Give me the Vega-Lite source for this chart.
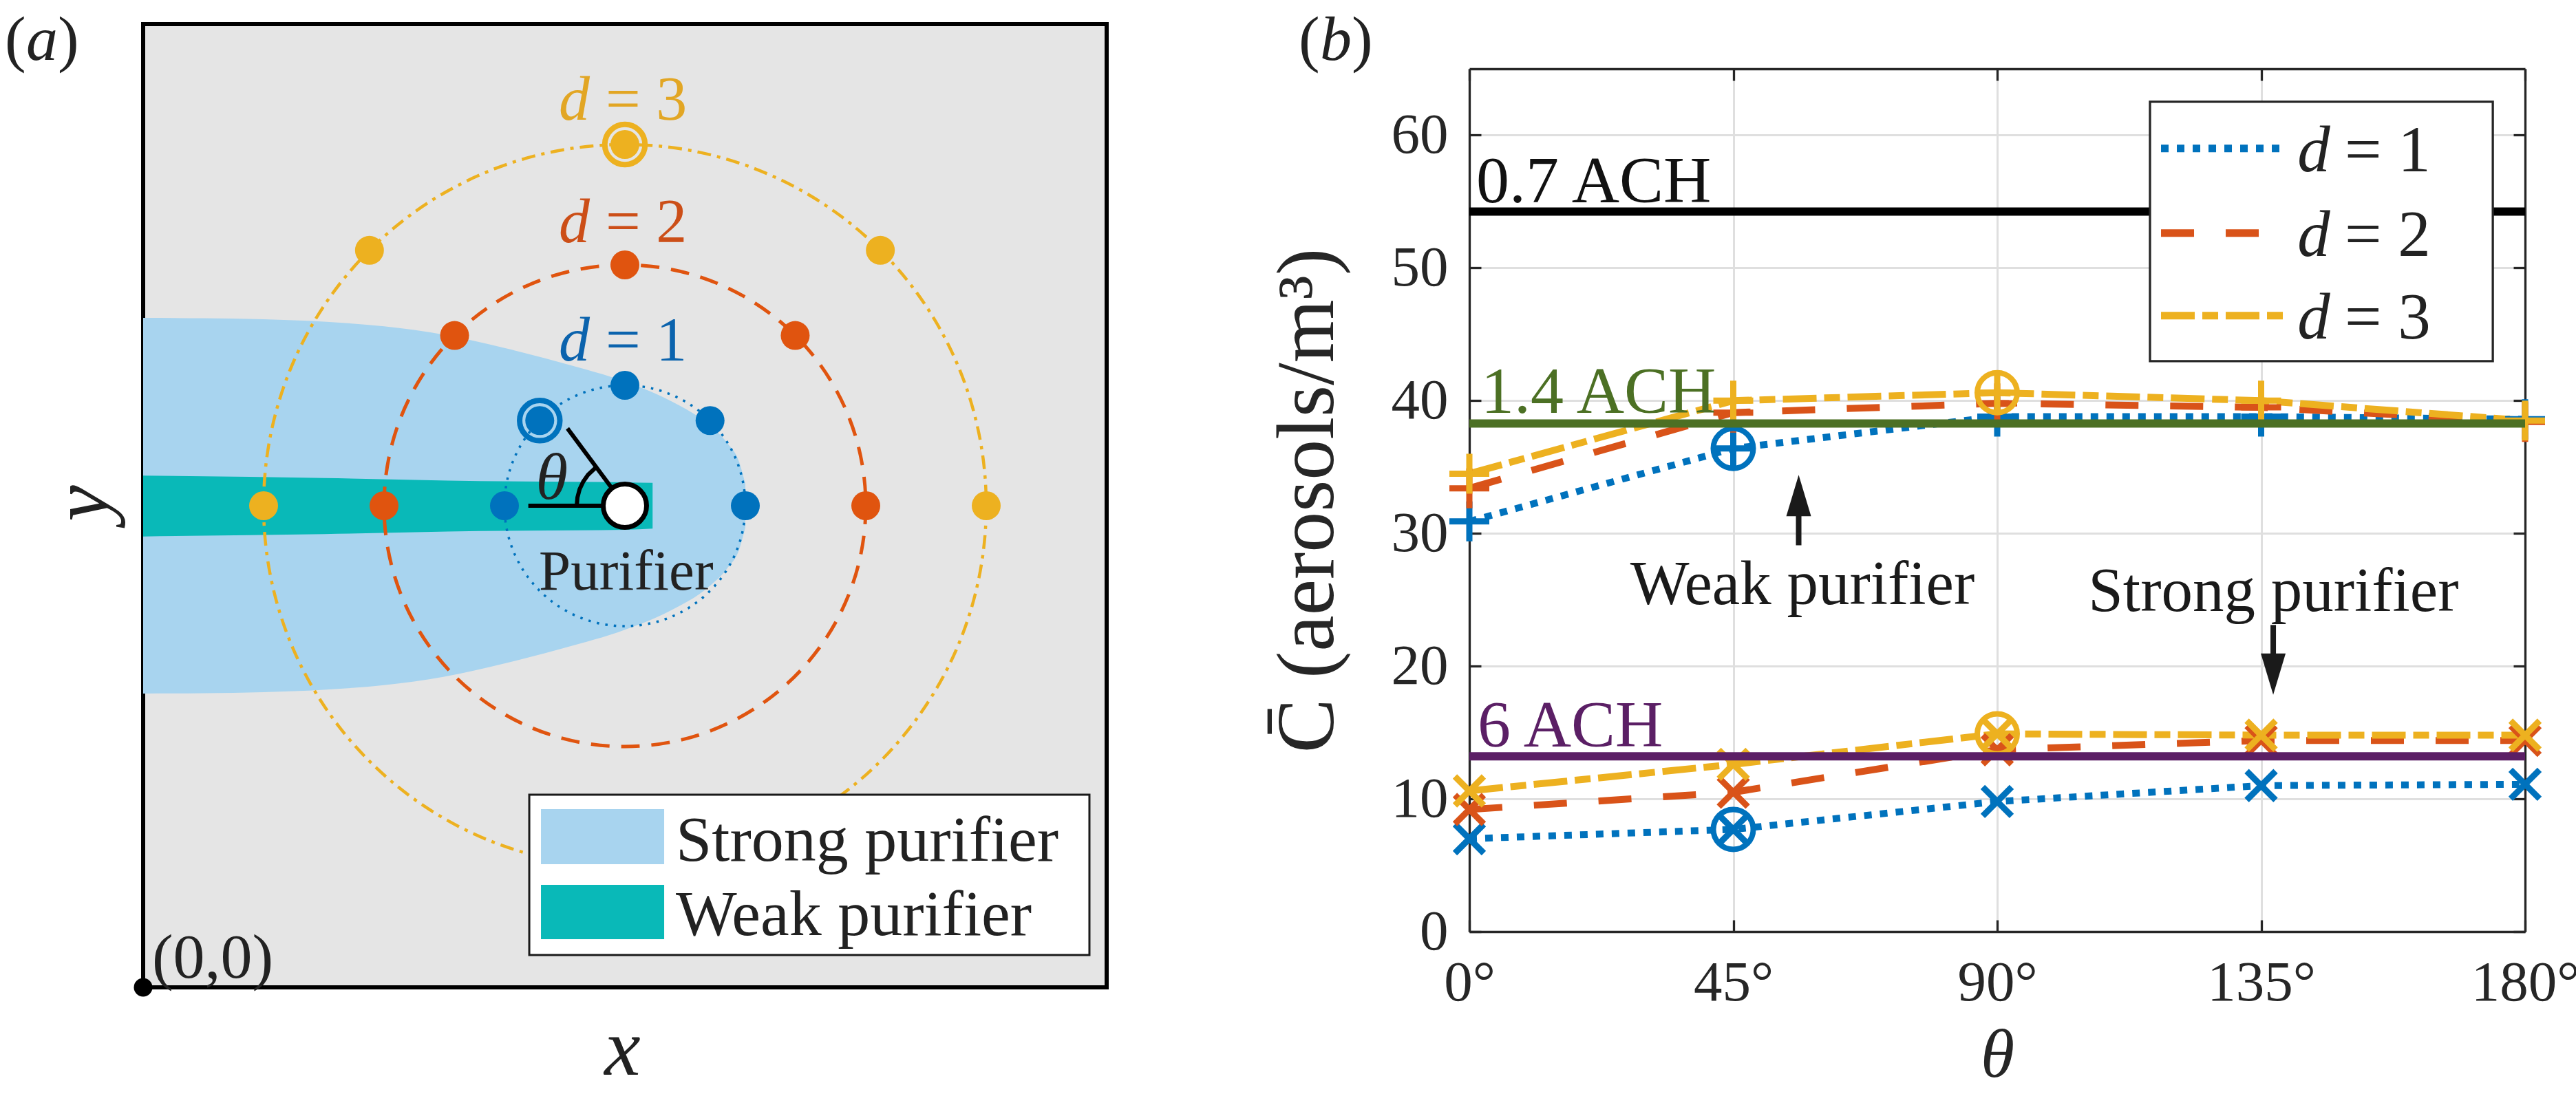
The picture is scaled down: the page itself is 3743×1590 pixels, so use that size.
{
"$schema": "https://vega.github.io/schema/vega-lite/v6.json",
"padding": {"left": 6, "top": 12, "right": 0, "bottom": 0},
"background": "white",
"bounds": "flush",
"spacing": 527,
"resolve": {"scale": {"x": "independent", "y": "independent", "color": "independent", "fill": "independent", "stroke": "independent", "size": "independent", "shape": "independent", "strokeDash": "independent", "strokeWidth": "independent"}},
"config": {
  "view": {"stroke": null},
  "font": "Liberation Serif",
  "text": {"font": "Liberation Serif", "color": "#222222", "baseline": "alphabetic"},
  "point": {"opacity": 1},
  "axis": {
    "labelFont": "Liberation Serif", "labelFontSize": 83, "labelColor": "#262626",
    "titleFont": "Liberation Serif", "titleFontSize": 118, "titleFontWeight": "normal", "titleColor": "#262626",
    "domainColor": "#262626", "domainWidth": 3.3, "tickColor": "#262626", "tickWidth": 3.3, "tickSize": -17,
    "gridColor": "#DFDFDF", "gridWidth": 3, "labelFlush": false, "labelOverlap": false
  }
},
"datasets": {
  "aBox": [{"x": 0, "x2": 8, "y": 0, "y2": 8}],
  "aStrong": [
    {"x": 0, "y": 2.44, "y2": 5.56},
    {"x": 0.5, "y": 2.443, "y2": 5.557},
    {"x": 1.0, "y": 2.452, "y2": 5.548},
    {"x": 1.5, "y": 2.472, "y2": 5.528},
    {"x": 2.0, "y": 2.51, "y2": 5.49},
    {"x": 2.5, "y": 2.58, "y2": 5.42},
    {"x": 3.0, "y": 2.69, "y2": 5.31},
    {"x": 3.5, "y": 2.82, "y2": 5.18},
    {"x": 4.0, "y": 2.97, "y2": 5.03},
    {"x": 4.4, "y": 3.14, "y2": 4.86},
    {"x": 4.7, "y": 3.33, "y2": 4.67},
    {"x": 4.85, "y": 3.48, "y2": 4.52},
    {"x": 4.95, "y": 3.64, "y2": 4.36},
    {"x": 5.0, "y": 3.82, "y2": 4.18}
  ],
  "aWeak": [
    {"x": 0, "y": 3.745, "y2": 4.25},
    {"x": 1.5, "y": 3.765, "y2": 4.23},
    {"x": 2.8, "y": 3.79, "y2": 4.205},
    {"x": 4.0, "y": 3.8, "y2": 4.195},
    {"x": 4.23, "y": 3.81, "y2": 4.19}
  ],
  "aCircles": [{"d": 1, "x": 4, "y": 4}, {"d": 2, "x": 4, "y": 4}, {"d": 3, "x": 4, "y": 4}],
  "aDots": [
    {"d": 1, "th": 0, "x": 3, "y": 4, "ring": false},
    {"d": 1, "th": 45, "x": 3.293, "y": 4.707, "ring": true},
    {"d": 1, "th": 90, "x": 4, "y": 5, "ring": false},
    {"d": 1, "th": 135, "x": 4.707, "y": 4.707, "ring": false},
    {"d": 1, "th": 180, "x": 5, "y": 4, "ring": false},
    {"d": 2, "th": 0, "x": 2, "y": 4, "ring": false},
    {"d": 2, "th": 45, "x": 2.586, "y": 5.414, "ring": false},
    {"d": 2, "th": 90, "x": 4, "y": 6, "ring": false},
    {"d": 2, "th": 135, "x": 5.414, "y": 5.414, "ring": false},
    {"d": 2, "th": 180, "x": 6, "y": 4, "ring": false},
    {"d": 3, "th": 0, "x": 1, "y": 4, "ring": false},
    {"d": 3, "th": 45, "x": 1.879, "y": 6.121, "ring": false},
    {"d": 3, "th": 90, "x": 4, "y": 7, "ring": true},
    {"d": 3, "th": 135, "x": 6.121, "y": 6.121, "ring": false},
    {"d": 3, "th": 180, "x": 7, "y": 4, "ring": false}
  ],
  "aAngle": [
    {"seg": "h", "o": 0, "x": 3.198, "y": 4}, {"seg": "h", "o": 1, "x": 4, "y": 4},
    {"seg": "g", "o": 0, "x": 3.523, "y": 4.642}, {"seg": "g", "o": 1, "x": 4, "y": 4},
    {"seg": "arc", "o": 0, "x": 3.6, "y": 4}, {"seg": "arc", "o": 1, "x": 3.606, "y": 4.069},
    {"seg": "arc", "o": 2, "x": 3.624, "y": 4.137}, {"seg": "arc", "o": 3, "x": 3.654, "y": 4.2},
    {"seg": "arc", "o": 4, "x": 3.694, "y": 4.257}, {"seg": "arc", "o": 5, "x": 3.762, "y": 4.321}
  ],
  "aPurifier": [{"x": 4, "y": 4}],
  "aOrigin": [{"x": 0, "y": 0}],
  "aDSym": [{"d": 1, "x": 3.451, "y": 5.206}, {"d": 2, "x": 3.451, "y": 6.189}, {"d": 3, "x": 3.451, "y": 7.205}],
  "aDEq": [{"d": 1, "x": 3.84, "y": 5.206, "text": "= 1"}, {"d": 2, "x": 3.84, "y": 6.189, "text": "= 2"}, {"d": 3, "x": 3.84, "y": 7.205, "text": "= 3"}],
  "aPurLabel": [{"x": 4.01, "y": 3.303, "text": "Purifier"}],
  "aTheta": [{"x": 3.394, "y": 4.057}],
  "aOrigLabel": [{"x": 0.074, "y": 0.08, "text": "(0,0)"}],
  "aLegBox": [{"x": 3.206, "x2": 7.857, "y": 0.269, "y2": 1.6}],
  "aSwatch": [
    {"kind": "strong", "x": 3.303, "x2": 4.326, "y": 1.023, "y2": 1.48},
    {"kind": "weak", "x": 3.303, "x2": 4.326, "y": 0.4, "y2": 0.851}
  ],
  "aLegText": [{"x": 4.423, "y": 1.051, "text": "Strong purifier"}, {"x": 4.423, "y": 0.434, "text": "Weak purifier"}],
  "aXLabel": [{"x": 3.98, "y": -0.726}],
  "aYLabel": [{"x": -0.291, "y": 4.02}],
  "aPanelParen": [{"x": -1.1486, "y": 7.7029, "text": "("}, {"x": -0.7086, "y": 7.7029, "text": ")"}],
  "aPanelLetter": [{"x": -0.9714, "y": 7.7029}],
  "bData": [
    {"p": "weak", "d": 1, "t": 0, "c": 30.9, "ring": false},
    {"p": "weak", "d": 1, "t": 45, "c": 36.4, "ring": true},
    {"p": "weak", "d": 1, "t": 90, "c": 38.8, "ring": false},
    {"p": "weak", "d": 1, "t": 135, "c": 38.8, "ring": false},
    {"p": "weak", "d": 1, "t": 180, "c": 38.6, "ring": false},
    {"p": "weak", "d": 2, "t": 0, "c": 33.4, "ring": false},
    {"p": "weak", "d": 2, "t": 45, "c": 39.1, "ring": false},
    {"p": "weak", "d": 2, "t": 90, "c": 39.8, "ring": false},
    {"p": "weak", "d": 2, "t": 135, "c": 39.5, "ring": false},
    {"p": "weak", "d": 2, "t": 180, "c": 38.4, "ring": false},
    {"p": "weak", "d": 3, "t": 0, "c": 34.5, "ring": false},
    {"p": "weak", "d": 3, "t": 45, "c": 40.0, "ring": false},
    {"p": "weak", "d": 3, "t": 90, "c": 40.6, "ring": true},
    {"p": "weak", "d": 3, "t": 135, "c": 40.0, "ring": false},
    {"p": "weak", "d": 3, "t": 180, "c": 38.5, "ring": false},
    {"p": "strong", "d": 1, "t": 0, "c": 7.0, "ring": false},
    {"p": "strong", "d": 1, "t": 45, "c": 7.7, "ring": true},
    {"p": "strong", "d": 1, "t": 90, "c": 9.8, "ring": false},
    {"p": "strong", "d": 1, "t": 135, "c": 11.0, "ring": false},
    {"p": "strong", "d": 1, "t": 180, "c": 11.1, "ring": false},
    {"p": "strong", "d": 2, "t": 0, "c": 9.2, "ring": false},
    {"p": "strong", "d": 2, "t": 45, "c": 10.5, "ring": false},
    {"p": "strong", "d": 2, "t": 90, "c": 13.7, "ring": false},
    {"p": "strong", "d": 2, "t": 135, "c": 14.4, "ring": false},
    {"p": "strong", "d": 2, "t": 180, "c": 14.4, "ring": false},
    {"p": "strong", "d": 3, "t": 0, "c": 10.6, "ring": false},
    {"p": "strong", "d": 3, "t": 45, "c": 12.6, "ring": false},
    {"p": "strong", "d": 3, "t": 90, "c": 14.9, "ring": true},
    {"p": "strong", "d": 3, "t": 135, "c": 14.8, "ring": false},
    {"p": "strong", "d": 3, "t": 180, "c": 14.8, "ring": false}
  ],
  "bACH": [
    {"name": "0.7 ACH", "t": 0, "t2": 180, "c": 54.24},
    {"name": "1.4 ACH", "t": 0, "t2": 180, "c": 38.28},
    {"name": "6 ACH", "t": 0, "t2": 180, "c": 13.2}
  ],
  "bACHLabel": [
    {"name": "0.7 ACH", "t": 1.17, "c": 54.95},
    {"name": "1.4 ACH", "t": 2.0, "c": 39.08},
    {"name": "6 ACH", "t": 1.4, "c": 13.96}
  ],
  "bNote": [{"text": "Weak purifier", "t": 56.8, "c": 24.67}, {"text": "Strong purifier", "t": 137.1, "c": 24.15}],
  "bShaft": [{"t": 56.15, "c": 29.1, "c2": 33.5}, {"t": 137.06, "c": 23.1, "c2": 18.9}],
  "bHeadUp": [{"t": 56.15, "c": 32.85}],
  "bHeadDown": [{"t": 137.06, "c": 19.4}],
  "bPanelParen": [{"t": -29.1, "c": 65.674, "text": "("}, {"t": -20.07, "c": 65.674, "text": ")"}],
  "bPanelLetter": [{"t": -25.46, "c": 65.674}],
  "bLegBox": [{"t": 116.05, "t2": 174.5, "c": 42.98, "c2": 62.52}],
  "bLegLine": [
    {"d": 1, "t": 117.93, "c": 59.0}, {"d": 1, "t": 139.17, "c": 59.0},
    {"d": 2, "t": 117.93, "c": 52.62}, {"d": 2, "t": 139.17, "c": 52.62},
    {"d": 3, "t": 117.93, "c": 46.4}, {"d": 3, "t": 139.17, "c": 46.4}
  ],
  "bLegD": [{"d": 1, "t": 141.2, "c": 57.28}, {"d": 2, "t": 141.2, "c": 50.9}, {"d": 3, "t": 141.2, "c": 44.68}],
  "bLegEq": [{"text": "= 1", "t": 149.26, "c": 57.28}, {"text": "= 2", "t": 149.26, "c": 50.9}, {"text": "= 3", "t": 149.26, "c": 44.68}]
},
"hconcat": [
  {
    "width": 1400, "height": 1254,
    "view": {"stroke": null},
    "encoding": {
      "x": {"field": "x", "type": "quantitative", "scale": {"domain": [0, 8], "nice": false, "zero": false}, "axis": null},
      "y": {"field": "y", "type": "quantitative", "scale": {"domain": [0.46286, 7.62857], "nice": false, "zero": false}, "axis": null}
    },
    "layer": [
      {"data": {"name": "aBox"}, "mark": {"type": "rect", "fill": "#E5E5E5", "stroke": "#000000", "strokeWidth": 6},
       "encoding": {"x2": {"field": "x2"}, "y2": {"field": "y2"}}},
      {"data": {"name": "aStrong"}, "mark": {"type": "area", "orient": "vertical", "interpolate": "monotone", "color": "#A8D4EF", "opacity": 1},
       "encoding": {"y2": {"field": "y2"}}},
      {"data": {"name": "aWeak"}, "mark": {"type": "area", "orient": "vertical", "interpolate": "monotone", "color": "#09B9B8", "opacity": 1},
       "encoding": {"y2": {"field": "y2"}}},
      {"data": {"name": "aCircles"}, "mark": {"type": "point", "shape": "circle", "filled": false, "opacity": 1},
       "encoding": {
         "color": {"field": "d", "type": "ordinal", "scale": {"type": "ordinal", "domain": [1, 2, 3], "range": ["#0072BD", "#E0540F", "#EDB120"]}, "legend": null},
         "size": {"field": "d", "type": "ordinal", "scale": {"type": "ordinal", "domain": [1, 2, 3], "range": [122500, 490000, 1102500]}, "legend": null},
         "strokeWidth": {"field": "d", "type": "ordinal", "scale": {"type": "ordinal", "domain": [1, 2, 3], "range": [3.5, 5, 4.5]}, "legend": null},
         "strokeDash": {"field": "d", "type": "ordinal", "scale": {"type": "ordinal", "domain": [1, 2, 3], "range": [[3.5, 9], [27, 17], [20, 9, 5, 9]]}, "legend": null}
       }},
      {"data": {"name": "aDots"}, "mark": {"type": "point", "shape": "circle", "filled": true, "size": 1764, "opacity": 1},
       "encoding": {"color": {"field": "d", "type": "ordinal", "legend": null}}},
      {"data": {"name": "aDots"}, "transform": [{"filter": "datum.ring"}],
       "mark": {"type": "point", "shape": "circle", "filled": false, "size": 3422, "strokeWidth": 8, "opacity": 1},
       "encoding": {"color": {"field": "d", "type": "ordinal", "legend": null}}},
      {"data": {"name": "aAngle"}, "mark": {"type": "line", "color": "#000000", "strokeWidth": 6},
       "encoding": {"detail": {"field": "seg"}, "order": {"field": "o", "type": "quantitative"}}},
      {"data": {"name": "aPurifier"}, "mark": {"type": "point", "shape": "circle", "filled": true, "fill": "#FFFFFF", "stroke": "#000000", "strokeWidth": 7, "size": 3969, "opacity": 1}},
      {"data": {"name": "aOrigin"}, "mark": {"type": "point", "shape": "circle", "filled": true, "color": "#000000", "size": 729, "opacity": 1}},
      {"data": {"name": "aDSym"}, "mark": {"type": "text", "text": "d", "font": "Liberation Serif", "fontStyle": "italic", "fontSize": 90, "align": "left", "baseline": "alphabetic"},
       "encoding": {"fill": {"field": "d", "type": "ordinal", "scale": {"type": "ordinal", "domain": [1, 2, 3], "range": ["#0B63AD", "#CC4E17", "#E2A624"]}, "legend": null}}},
      {"data": {"name": "aDEq"}, "mark": {"type": "text", "font": "Liberation Serif", "fontSize": 90, "align": "left", "baseline": "alphabetic"},
       "encoding": {"text": {"field": "text"}, "fill": {"field": "d", "type": "ordinal", "legend": null}}},
      {"data": {"name": "aPurLabel"}, "mark": {"type": "text", "font": "Liberation Serif", "fontSize": 83, "align": "center", "baseline": "alphabetic", "color": "#222222"},
       "encoding": {"text": {"field": "text"}}},
      {"data": {"name": "aTheta"}, "mark": {"type": "text", "text": "θ", "font": "Liberation Serif", "fontStyle": "italic", "fontSize": 95, "align": "center", "baseline": "alphabetic", "color": "#222222"}},
      {"data": {"name": "aOrigLabel"}, "mark": {"type": "text", "font": "Liberation Serif", "fontSize": 92, "align": "left", "baseline": "alphabetic", "color": "#222222"},
       "encoding": {"text": {"field": "text"}}},
      {"data": {"name": "aLegBox"}, "mark": {"type": "rect", "fill": "#FFFFFF", "stroke": "#1A1A1A", "strokeWidth": 3},
       "encoding": {"x2": {"field": "x2"}, "y2": {"field": "y2"}}},
      {"data": {"name": "aSwatch"}, "transform": [{"filter": "datum.kind === 'strong'"}], "mark": {"type": "rect", "fill": "#A8D4EF"},
       "encoding": {"x2": {"field": "x2"}, "y2": {"field": "y2"}}},
      {"data": {"name": "aSwatch"}, "transform": [{"filter": "datum.kind === 'weak'"}], "mark": {"type": "rect", "fill": "#09B9B8"},
       "encoding": {"x2": {"field": "x2"}, "y2": {"field": "y2"}}},
      {"data": {"name": "aLegText"}, "mark": {"type": "text", "font": "Liberation Serif", "fontSize": 94, "align": "left", "baseline": "alphabetic", "color": "#222222"},
       "encoding": {"text": {"field": "text"}}},
      {"data": {"name": "aXLabel"}, "mark": {"type": "text", "text": "x", "font": "Liberation Serif", "fontStyle": "italic", "fontSize": 118, "align": "center", "baseline": "alphabetic", "color": "#222222"}},
      {"data": {"name": "aYLabel"}, "mark": {"type": "text", "text": "y", "font": "Liberation Serif", "fontStyle": "italic", "fontSize": 118, "align": "center", "baseline": "alphabetic", "angle": 270, "color": "#222222"}},
      {"data": {"name": "aPanelParen"}, "mark": {"type": "text", "font": "Liberation Serif", "fontSize": 92, "align": "left", "baseline": "alphabetic", "color": "#222222"},
       "encoding": {"text": {"field": "text"}}},
      {"data": {"name": "aPanelLetter"}, "mark": {"type": "text", "text": "a", "font": "Liberation Serif", "fontStyle": "italic", "fontSize": 92, "align": "left", "baseline": "alphabetic", "color": "#222222"}}
    ]
  },
  {
    "width": 1534, "height": 1254,
    "view": {"stroke": null},
    "resolve": {"axis": {"x": "independent", "y": "independent"}},
    "layer": [
      {
        "encoding": {
          "x": {"field": "t", "type": "quantitative", "scale": {"domain": [0, 180], "nice": false, "zero": false},
                "axis": {"orient": "bottom", "values": [0, 45, 90, 135, 180], "labelExpr": "datum.value + '°'", "title": "θ", "titleFontStyle": "italic", "titleFontSize": 100, "grid": true, "labelPadding": 50, "titlePadding": 15}},
          "y": {"field": "c", "type": "quantitative", "scale": {"domain": [0, 65], "nice": false, "zero": false},
                "axis": {"orient": "left", "values": [0, 10, 20, 30, 40, 50, 60], "title": "C̄ (aerosols/m³)", "grid": true, "labelPadding": 48, "titlePadding": 60}}
        },
        "layer": [
          {"data": {"name": "bData"}, "mark": {"type": "line", "strokeWidth": 10},
           "encoding": {
             "detail": {"field": "p"},
             "color": {"field": "d", "type": "ordinal", "scale": {"type": "ordinal", "domain": [1, 2, 3], "range": ["#0072BD", "#D95319", "#EDB120"]}, "legend": null},
             "strokeDash": {"field": "d", "type": "ordinal", "scale": {"type": "ordinal", "domain": [1, 2, 3], "range": [[11, 12], [48, 46], [49, 11, 23, 11]]}, "legend": null}
           }},
          {"data": {"name": "bData"}, "mark": {"type": "point", "filled": false, "strokeWidth": 9, "opacity": 1},
           "encoding": {
             "color": {"field": "d", "type": "ordinal", "legend": null},
             "shape": {"field": "p", "type": "nominal", "scale": {"domain": ["weak", "strong"], "range": ["M-1,0L1,0M0,-1L0,1", "M-1,-1L1,1M-1,1L1,-1"]}, "legend": null},
             "size": {"field": "p", "type": "ordinal", "scale": {"type": "ordinal", "domain": ["weak", "strong"], "range": [3364, 1764]}, "legend": null}
           }},
          {"data": {"name": "bData"}, "transform": [{"filter": "datum.ring"}],
           "mark": {"type": "point", "shape": "circle", "filled": false, "strokeWidth": 8, "size": 3364, "opacity": 1},
           "encoding": {"color": {"field": "d", "type": "ordinal", "legend": null}}},
          {"data": {"name": "bACH"}, "mark": {"type": "rule", "strokeWidth": 12},
           "encoding": {
             "x2": {"field": "t2"},
             "stroke": {"field": "name", "type": "nominal", "scale": {"domain": ["0.7 ACH", "1.4 ACH", "6 ACH"], "range": ["#000000", "#4C7024", "#5B1F65"]}, "legend": null}
           }},
          {"data": {"name": "bACHLabel"}, "mark": {"type": "text", "font": "Liberation Serif", "fontSize": 96, "align": "left", "baseline": "alphabetic"},
           "encoding": {
             "text": {"field": "name"},
             "fill": {"field": "name", "type": "nominal", "scale": {"domain": ["0.7 ACH", "1.4 ACH", "6 ACH"], "range": ["#111111", "#4C7024", "#5B1F65"]}, "legend": null}
           }},
          {"data": {"name": "bNote"}, "mark": {"type": "text", "font": "Liberation Serif", "fontSize": 91, "align": "center", "baseline": "alphabetic", "color": "#1A1A1A"},
           "encoding": {"text": {"field": "text"}}},
          {"data": {"name": "bShaft"}, "mark": {"type": "rule", "strokeWidth": 8, "color": "#1A1A1A"},
           "encoding": {"y2": {"field": "c2"}}},
          {"data": {"name": "bHeadUp"}, "mark": {"type": "point", "shape": "M0,-1L0.6,1L-0.6,1Z", "filled": true, "size": 3600, "color": "#1A1A1A", "opacity": 1}},
          {"data": {"name": "bHeadDown"}, "mark": {"type": "point", "shape": "M0,1L0.6,-1L-0.6,-1Z", "filled": true, "size": 3600, "color": "#1A1A1A", "opacity": 1}},
          {"data": {"name": "bPanelParen"}, "mark": {"type": "text", "font": "Liberation Serif", "fontSize": 92, "align": "left", "baseline": "alphabetic", "color": "#222222"},
           "encoding": {"text": {"field": "text"}}},
          {"data": {"name": "bPanelLetter"}, "mark": {"type": "text", "text": "b", "font": "Liberation Serif", "fontStyle": "italic", "fontSize": 92, "align": "left", "baseline": "alphabetic", "color": "#222222"}}
        ]
      },
      {
        "encoding": {
          "x": {"field": "t", "type": "quantitative", "axis": {"orient": "top", "values": [0, 45, 90, 135, 180], "labels": false, "title": null, "grid": false}},
          "y": {"field": "c", "type": "quantitative", "axis": {"orient": "right", "values": [0, 10, 20, 30, 40, 50, 60], "labels": false, "title": null, "grid": false}}
        },
        "layer": [
          {"data": {"name": "bLegBox"}, "mark": {"type": "rect", "fill": "#FFFFFF", "stroke": "#262626", "strokeWidth": 3.3},
           "encoding": {"x2": {"field": "t2"}, "y2": {"field": "c2"}}},
          {"data": {"name": "bLegLine"}, "mark": {"type": "line", "strokeWidth": 11},
           "encoding": {
             "detail": {"field": "d"},
             "color": {"field": "d", "type": "ordinal", "legend": null},
             "strokeDash": {"field": "d", "type": "ordinal", "legend": null}
           }},
          {"data": {"name": "bLegD"}, "mark": {"type": "text", "text": "d", "font": "Liberation Serif", "fontStyle": "italic", "fontSize": 95, "align": "left", "baseline": "alphabetic", "color": "#222222"}},
          {"data": {"name": "bLegEq"}, "mark": {"type": "text", "font": "Liberation Serif", "fontSize": 95, "align": "left", "baseline": "alphabetic", "color": "#222222"},
           "encoding": {"text": {"field": "text"}}}
        ]
      }
    ]
  }
]
}
